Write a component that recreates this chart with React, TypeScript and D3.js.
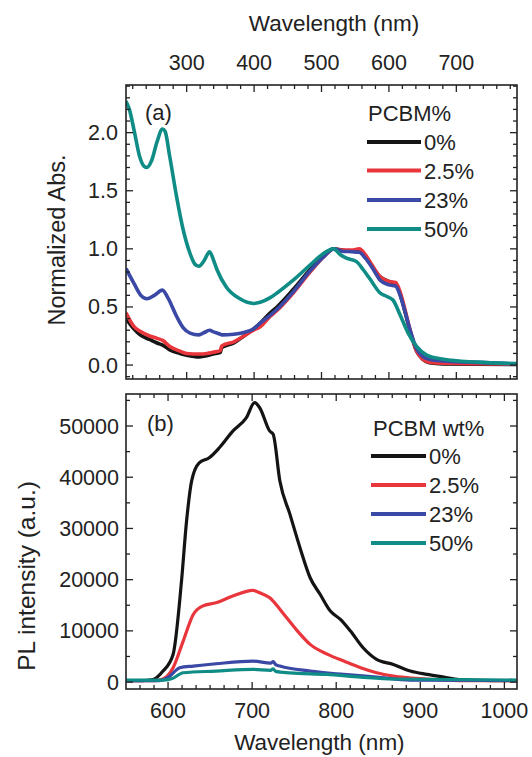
import React from "react";
import * as d3 from "d3";

// ---------- Panel (a): normalized absorbance ----------
const seriesLabels = ["0%", "2.5%", "23%", "50%"];
const seriesColors = ["#141414", "#e8363c", "#3a48a6", "#0f8c86"];

const absWl0 = [210, 222, 231, 245, 256, 265, 275, 290, 300, 319, 330, 339, 350, 352, 370, 385, 399, 409, 424, 434, 458, 483, 503, 518, 530, 545, 556, 565, 575, 587, 600, 610, 616, 622, 631, 641, 650, 660, 680, 790];
const absVal0 = [0.40, 0.31, 0.26, 0.22, 0.19, 0.17, 0.13, 0.10, 0.085, 0.07, 0.08, 0.095, 0.11, 0.15, 0.19, 0.25, 0.31, 0.36, 0.45, 0.50, 0.65, 0.82, 0.94, 1.0, 0.99, 0.98, 0.985, 0.94, 0.85, 0.76, 0.72, 0.70, 0.62, 0.50, 0.30, 0.12, 0.05, 0.02, 0.01, 0.005];

const absWl1 = [210, 222, 231, 245, 256, 265, 275, 290, 300, 319, 330, 339, 350, 352, 370, 385, 399, 409, 424, 434, 458, 483, 503, 518, 530, 545, 556, 565, 575, 587, 600, 610, 616, 622, 631, 641, 650, 660, 680, 790];
const absVal1 = [0.45, 0.33, 0.29, 0.25, 0.23, 0.21, 0.16, 0.12, 0.10, 0.095, 0.10, 0.11, 0.125, 0.165, 0.20, 0.25, 0.30, 0.33, 0.42, 0.47, 0.62, 0.80, 0.93, 1.0, 0.99, 0.99, 1.0, 0.95, 0.86, 0.76, 0.72, 0.71, 0.64, 0.52, 0.31, 0.12, 0.05, 0.025, 0.015, 0.008];

const absWl2 = [210, 222, 232, 241, 252, 264, 272, 285, 295, 305, 318, 326, 334, 340, 350, 352, 370, 385, 399, 409, 424, 434, 458, 483, 503, 518, 530, 545, 556, 565, 575, 587, 600, 610, 616, 622, 631, 641, 650, 660, 680, 720, 790];
const absVal2 = [0.83, 0.70, 0.60, 0.57, 0.60, 0.645, 0.58, 0.42, 0.32, 0.275, 0.26, 0.28, 0.30, 0.285, 0.265, 0.26, 0.265, 0.28, 0.31, 0.36, 0.43, 0.48, 0.63, 0.81, 0.93, 1.0, 0.98, 0.975, 0.97, 0.92, 0.84, 0.73, 0.69, 0.68, 0.61, 0.50, 0.31, 0.14, 0.075, 0.05, 0.035, 0.025, 0.01];

const absWl3 = [210, 215, 222, 230, 237, 241, 248, 256, 264, 268, 275, 285, 295, 305, 312, 318, 326, 334, 340, 345, 359, 379, 399, 409, 424, 434, 458, 483, 503, 518, 528, 537, 552, 562, 572, 587, 597, 606, 616, 629, 641, 656, 681, 730, 790];
const absVal3 = [2.27, 2.20, 2.02, 1.80, 1.71, 1.70, 1.76, 1.92, 2.03, 2.01, 1.79, 1.45, 1.16, 0.96, 0.87, 0.85, 0.90, 0.975, 0.90, 0.82, 0.67, 0.57, 0.53, 0.54, 0.58, 0.62, 0.73, 0.86, 0.96, 1.0, 0.95, 0.92, 0.89, 0.82, 0.74, 0.62, 0.59, 0.56, 0.44, 0.27, 0.16, 0.086, 0.05, 0.025, 0.012];

// ---------- Panel (b): PL intensity ----------
const plWl0 = [550, 570, 582, 594, 606, 616, 622, 628, 637, 649, 661, 677, 693, 703, 709, 721, 725, 733, 745, 757, 769, 781, 793, 805, 817, 832, 848, 868, 888, 908, 928, 946, 986, 1015];
const plVal0 = [300, 300, 500, 2150, 5400, 19700, 31400, 39250, 42800, 43800, 45750, 49000, 51600, 54550, 53570, 49000, 48400, 39250, 32750, 26200, 20370, 17100, 13870, 12250, 9960, 6700, 4430, 3450, 2150, 1500, 980, 500, 300, 300];

const plWl1 = [550, 585, 594, 606, 618, 630, 641, 657, 677, 701, 709, 721, 725, 738, 754, 769, 790, 809, 829, 848, 868, 908, 946, 1015];
const plVal1 = [300, 300, 600, 2800, 8000, 13200, 14840, 15500, 16800, 17900, 17440, 16460, 15820, 13200, 9960, 7360, 5400, 4100, 2800, 1820, 1170, 600, 300, 300];

const plWl2 = [550, 590, 600, 614, 630, 657, 701, 722, 725, 728, 733, 769, 809, 848, 888, 1015];
const plVal2 = [300, 300, 900, 2800, 3130, 3580, 4100, 3700, 4000, 3400, 3130, 2150, 1500, 980, 400, 300];

const plWl3 = [550, 595, 605, 618, 657, 701, 722, 725, 728, 745, 789, 829, 868, 1015];
const plVal3 = [400, 400, 700, 1820, 2150, 2480, 2300, 2600, 2100, 1800, 1500, 980, 600, 400];

// ---------- Ticks ----------
const topTicksA = [300, 400, 500, 600, 700];
const yTicksA = [0.0, 0.5, 1.0, 1.5, 2.0];
const bottomTicksB = [600, 700, 800, 900, 1000];
const yTicksB = [0, 10000, 20000, 30000, 40000, 50000];

const FONT = "'Liberation Sans', Arial, Helvetica, sans-serif";
const TXT = "#222";

const L = 126, R = 517;
const A_T = 85, A_B = 379;
const B_T = 394, B_B = 689;

export default function App() {
  const xA = d3.scaleLinear().domain([210, 790]).range([L, R]);
  const yA = d3.scaleLinear().domain([-0.12, 2.41]).range([A_B, A_T]);
  const xB = d3.scaleLinear().domain([550, 1015]).range([L, R]);
  const yB = d3.scaleLinear().domain([-1350, 56250]).range([B_B, B_T]);

  const absData = [
    d3.zip(absWl0, absVal0),
    d3.zip(absWl1, absVal1),
    d3.zip(absWl2, absVal2),
    d3.zip(absWl3, absVal3),
  ];
  const plData = [
    d3.zip(plWl0, plVal0),
    d3.zip(plWl1, plVal1),
    d3.zip(plWl2, plVal2),
    d3.zip(plWl3, plVal3),
  ];

  const lineA = d3.line<number[]>().x((d) => xA(d[0])).y((d) => yA(d[1])).curve(d3.curveMonotoneX);
  const lineB = d3.line<number[]>().x((d) => xB(d[0])).y((d) => yB(d[1])).curve(d3.curveMonotoneX);

  const minorA = d3.range(220, 790, 20).filter((v) => v % 100 !== 0);
  const minorYA = d3.range(-0.1, 2.41, 0.1).map((v) => Math.round(v * 10) / 10).filter((v) => Math.round(v * 10) % 5 !== 0);
  const minorB = d3.range(0, 29).map((i) => 550 + (i * 100) / 6).filter((v) => v > 551 && v < 1015 && Math.abs(v % 100) > 1 && Math.abs((v % 100) - 100) > 1);
  const minorYB = d3.range(5000, 56000, 10000);

  const MAJ = 7, MIN = 4;
  const stroke = "#222";

  const xTicks = (x: any, vals: number[], top: number, bottom: number, len: number, key: string) =>
    vals.map((v, i) => (
      <g key={key + i}>
        <line x1={x(v)} x2={x(v)} y1={top} y2={top + len} stroke={stroke} strokeWidth={1.3} />
        <line x1={x(v)} x2={x(v)} y1={bottom} y2={bottom - len} stroke={stroke} strokeWidth={1.3} />
      </g>
    ));
  const yTicks = (y: any, vals: number[], len: number, key: string) =>
    vals.map((v, i) => (
      <g key={key + i}>
        <line x1={L} x2={L + len} y1={y(v)} y2={y(v)} stroke={stroke} strokeWidth={1.3} />
        <line x1={R} x2={R - len} y1={y(v)} y2={y(v)} stroke={stroke} strokeWidth={1.3} />
      </g>
    ));

  const legend = (x0: number, x1: number, ys: number[], tx: number, key: string) =>
    ys.map((y, i) => (
      <g key={key + i}>
        <line x1={x0} x2={x1} y1={y} y2={y} stroke={seriesColors[i]} strokeWidth={4} />
        <text x={tx} y={y + 8} fontSize={22} fill={TXT}>{seriesLabels[i]}</text>
      </g>
    ));

  return (
    <svg width={532} height={757} style={{ position: "absolute", left: 0, top: 0, background: "#fff" }} fontFamily={FONT}>
      <rect x={0} y={0} width={532} height={757} fill="#fff" />
      <defs>
        <clipPath id="clipA"><rect x={L} y={A_T} width={R - L} height={A_B - A_T} /></clipPath>
        <clipPath id="clipB"><rect x={L} y={B_T} width={R - L} height={B_B - B_T} /></clipPath>
      </defs>

      {/* Panel A */}
      <g clipPath="url(#clipA)">
        {absData.map((d, i) => (
          <path key={"a" + i} d={lineA(d as any) || ""} fill="none" stroke={seriesColors[i]} strokeWidth={3.6} strokeLinejoin="round" />
        ))}
      </g>
      {xTicks(xA, topTicksA, A_T, A_B, MAJ, "ta")}
      {xTicks(xA, minorA, A_T, A_B, MIN, "tam")}
      {yTicks(yA, yTicksA, MAJ, "ya")}
      {yTicks(yA, minorYA, MIN, "yam")}
      <rect x={L} y={A_T} width={R - L} height={A_B - A_T} fill="none" stroke={stroke} strokeWidth={1.6} />
      {topTicksA.map((v) => (
        <text key={"tl" + v} x={xA(v)} y={70} textAnchor="middle" fontSize={21.5} fill={TXT}>{v}</text>
      ))}
      {yTicksA.map((v) => (
        <text key={"yl" + v} x={118} y={yA(v) + 7.5} textAnchor="end" fontSize={21.5} fill={TXT}>{v.toFixed(1)}</text>
      ))}
      <text x={334} y={31} textAnchor="middle" fontSize={22.5} fill={TXT}>Wavelength (nm)</text>
      <text transform={`translate(65,240) rotate(-90)`} textAnchor="middle" fontSize={23.5} fill={TXT}>Normalized Abs.</text>
      <text x={145} y={120} fontSize={22} fill={TXT}>(a)</text>
      <text x={368} y={121} fontSize={22} fill={TXT}>PCBM%</text>
      {legend(367, 421, [142, 170.5, 200, 229], 424, "la")}

      {/* Panel B */}
      <g clipPath="url(#clipB)">
        {plData.map((d, i) => (
          <path key={"b" + i} d={lineB(d as any) || ""} fill="none" stroke={seriesColors[i]} strokeWidth={3.2} strokeLinejoin="round" />
        ))}
      </g>
      {xTicks(xB, bottomTicksB, B_T, B_B, MAJ, "tb")}
      {xTicks(xB, minorB, B_T, B_B, MIN, "tbm")}
      {yTicks(yB, yTicksB, MAJ, "yb")}
      {yTicks(yB, minorYB, MIN, "ybm")}
      <rect x={L} y={B_T} width={R - L} height={B_B - B_T} fill="none" stroke={stroke} strokeWidth={1.6} />
      {bottomTicksB.map((v) => (
        <text key={"bl" + v} x={xB(v)} y={718} textAnchor="middle" fontSize={21.5} fill={TXT}>{v}</text>
      ))}
      {yTicksB.map((v) => (
        <text key={"ybl" + v} x={119} y={yB(v) + 7.5} textAnchor="end" fontSize={21.5} fill={TXT}>{v}</text>
      ))}
      <text x={xB(780)} y={750} textAnchor="middle" fontSize={22.5} fill={TXT}>Wavelength (nm)</text>
      <text transform={`translate(35,576) rotate(-90)`} textAnchor="middle" fontSize={24.5} fill={TXT}>PL intensity (a.u.)</text>
      <text x={147} y={431} fontSize={22} fill={TXT}>(b)</text>
      <text x={373} y={436} fontSize={22} fill={TXT}>PCBM wt%</text>
      {legend(371, 426, [456, 485, 514, 543], 429, "lb")}
    </svg>
  );
}
